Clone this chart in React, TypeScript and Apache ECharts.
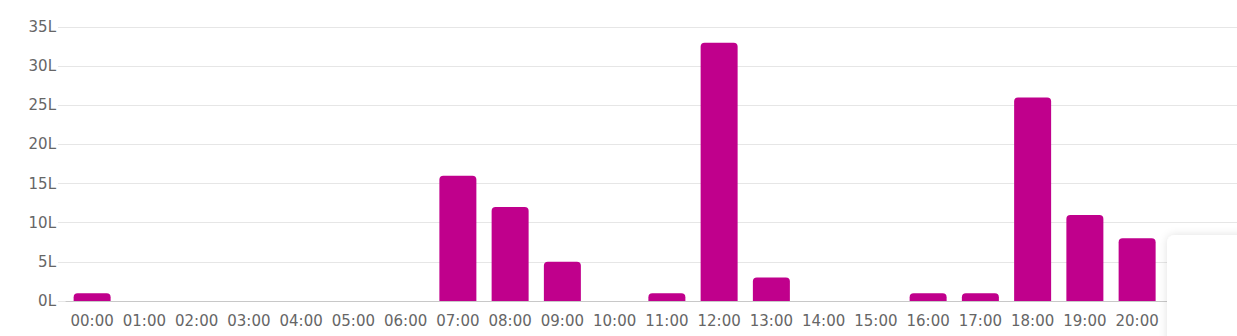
import React, { useEffect, useRef } from "react";
import * as echarts from "echarts";

const hours = [
  "00:00", "01:00", "02:00", "03:00", "04:00", "05:00", "06:00", "07:00",
  "08:00", "09:00", "10:00", "11:00", "12:00", "13:00", "14:00", "15:00",
  "16:00", "17:00", "18:00", "19:00", "20:00", "21:00", "22:00", "23:00",
];
const litres = [1, 0, 0, 0, 0, 0, 0, 16, 12, 5, 0, 1, 33, 3, 0, 0, 1, 1, 26, 11, 8, 0, 0, 0];
const lastVisibleLabel = 20;
const yMin = 0;
const yMax = 35;
const yStep = 5;

const FONT = "DejaVu Sans";

export default function App() {
  const ref = useRef<HTMLDivElement>(null);
  useEffect(() => {
    if (!ref.current) return;
    const chart = echarts.init(ref.current, undefined, { renderer: "svg" });
    chart.setOption({
      animation: false,
      backgroundColor: "#ffffff",
      grid: [
        { left: 58, right: 0, top: 27, bottom: 35 },
        { left: 66, right: 0, top: 27, bottom: 35 },
      ],
      xAxis: [
        { type: "value", gridIndex: 0, show: false, min: 0, max: 1 },
        {
          type: "category",
          gridIndex: 1,
          data: hours,
          axisTick: { show: false },
          axisLine: { lineStyle: { color: "#c8c8c8", width: 1 } },
          axisLabel: {
            color: "#666666",
            fontFamily: FONT,
            fontSize: 15,
            margin: 12,
            interval: (i: number) => i <= lastVisibleLabel,
          },
        },
      ],
      yAxis: [
        {
          type: "value",
          gridIndex: 0,
          min: yMin,
          max: yMax,
          interval: yStep,
          axisLine: { show: false },
          axisTick: { show: false },
          splitLine: { lineStyle: { color: "#e6e6e6", width: 1 } },
          axisLabel: { formatter: "{value}L", color: "#666666", fontFamily: FONT, fontSize: 15, margin: 2 },
        },
        {
          type: "value",
          gridIndex: 1,
          min: yMin,
          max: yMax,
          interval: yStep,
          show: false,
          splitLine: { show: false },
        },
      ],
      series: [
        {
          type: "bar",
          xAxisIndex: 1,
          yAxisIndex: 1,
          data: litres,
          barWidth: 37,
          itemStyle: { color: "#c0008c", borderRadius: [4, 4, 0, 0] },
        },
      ],
      graphic: [
        {
          type: "rect",
          left: 1167,
          top: 235,
          shape: { width: 200, height: 140, r: 8 },
          style: {
            fill: "#ffffff",
            shadowBlur: 8,
            shadowColor: "rgba(0,0,0,0.12)",
            shadowOffsetX: 0,
            shadowOffsetY: 0,
          },
          z: 100,
        },
      ],
    });
    return () => chart.dispose();
  }, []);
  return (
    <div style={{ position: "absolute", left: 0, top: 0, width: 1237, height: 336, overflow: "hidden" }}>
      <div ref={ref} style={{ width: 1320, height: 336 }} />
    </div>
  );
}
